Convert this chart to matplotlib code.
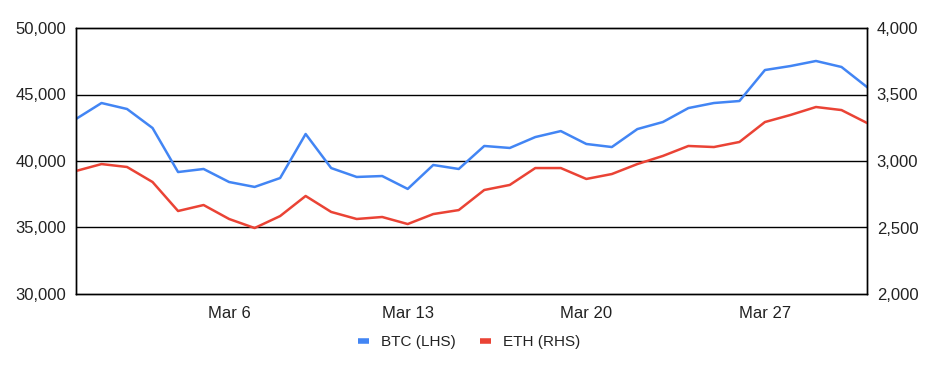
import numpy as np
import pandas as pd
import matplotlib
matplotlib.use("Agg")
import matplotlib.pyplot as plt
import matplotlib.dates as mdates

plt.rcParams["font.family"] = ["Liberation Sans", "DejaVu Sans"]

dates = pd.date_range("2022-02-28", "2022-03-31", freq="D")
btc = [43160, 44360, 43910, 42480, 39170, 39400, 38420, 38050, 38720, 42030,
       39470, 38800, 38870, 37900, 39700, 39400, 41130, 40980, 41800, 42250,
       41280, 41050, 42400, 42930, 43980, 44360, 44510, 46840, 47140, 47520,
       47070, 45560]
eth = [2925, 2977, 2955, 2842, 2624, 2669, 2564, 2496, 2586, 2737,
       2617, 2564, 2579, 2526, 2601, 2631, 2782, 2820, 2947, 2947,
       2865, 2902, 2977, 3038, 3113, 3105, 3143, 3293, 3346, 3406,
       3383, 3286]
xticks = pd.to_datetime(["2022-03-06", "2022-03-13", "2022-03-20", "2022-03-27"])

fig = plt.figure(figsize=(9.34, 3.71), dpi=100)
ax = fig.add_axes([76 / 934, 1 - 294 / 371, (867 - 76) / 934, (294 - 28) / 371])
ax2 = ax.twinx()

l1, = ax.plot(dates, btc, color="#4285F4", lw=1.8, label="BTC (LHS)")
l2, = ax2.plot(dates, eth, color="#EA4335", lw=1.8, label="ETH (RHS)")

ax.set_xlim(dates[0], dates[-1])
ax.set_ylim(30000, 50000)
ax2.set_ylim(2000, 4000)
ax.set_yticks(np.arange(30000, 50001, 5000))
ax2.set_yticks(np.arange(2000, 4001, 500))
ax.yaxis.set_major_formatter(matplotlib.ticker.FuncFormatter(lambda v, p: f"{v:,.0f}"))
ax2.yaxis.set_major_formatter(matplotlib.ticker.FuncFormatter(lambda v, p: f"{v:,.0f}"))
ax.set_xticks(xticks)
ax.xaxis.set_major_formatter(mdates.DateFormatter("Mar %-d"))

for y in (35000, 40000, 45000):
    ax.axhline(y, color="black", lw=1, zorder=0)

for a in (ax, ax2):
    for s in a.spines.values():
        s.set_color("black")
        s.set_linewidth(1)
    a.tick_params(length=0, labelsize=12, colors="#222222", pad=7)
ax.tick_params(axis="x", pad=9)

fig.legend(handles=[l1, l2], loc="center", bbox_to_anchor=(469 / 934, 1 - 342 / 371),
           ncol=2, frameon=False, fontsize=11, handlelength=0.75, handletextpad=0.75,
           columnspacing=1.6, labelcolor="#222222")
for h in fig.legends[0].legend_handles:
    h.set_linewidth(4)
    h.set_solid_capstyle("butt")

fig.savefig("out.png", dpi=100)
